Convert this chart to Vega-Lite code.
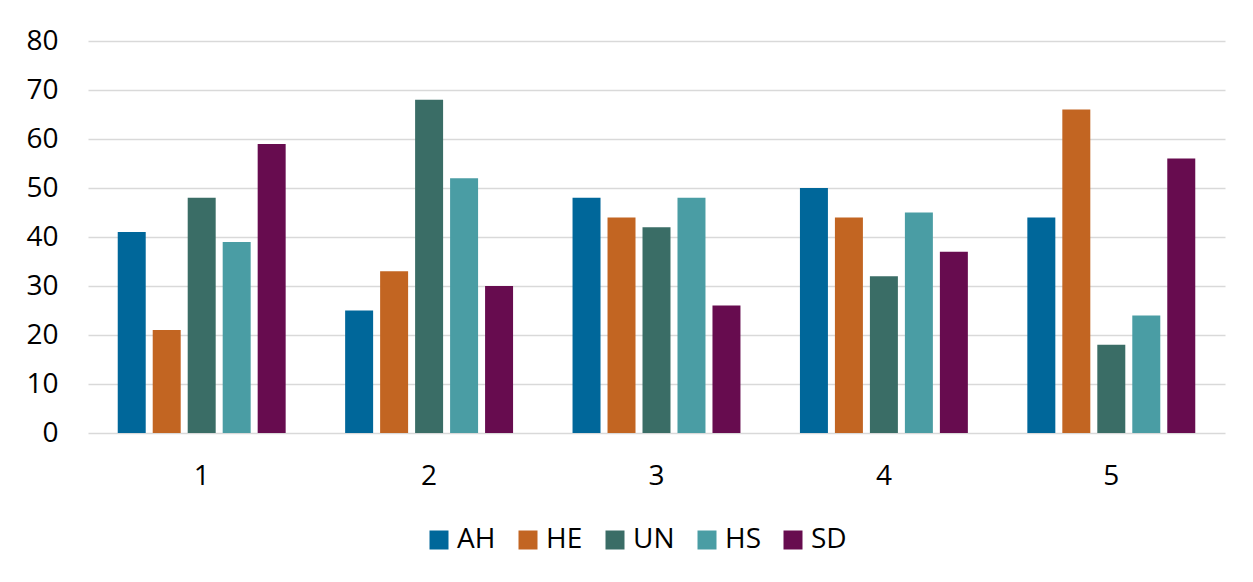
{
  "$schema": "https://vega.github.io/schema/vega-lite/v6.json",
  "width": 1137,
  "height": 392,
  "padding": {"left": 25, "top": 27, "right": 28, "bottom": 20},
  "background": "white",
  "config": {
    "font": "Open Sans",
    "view": {"stroke": null},
    "axis": {"labelFont": "Open Sans", "labelFontSize": 28, "labelColor": "#000000", "ticks": false, "domain": false, "title": null},
    "legend": {"labelFont": "Open Sans", "labelFontSize": 28, "labelColor": "#000000"}
  },
  "data": {
    "values": [
      {"group": "1", "series": "AH", "value": 41},
      {"group": "1", "series": "HE", "value": 21},
      {"group": "1", "series": "UN", "value": 48},
      {"group": "1", "series": "HS", "value": 39},
      {"group": "1", "series": "SD", "value": 59},
      {"group": "2", "series": "AH", "value": 25},
      {"group": "2", "series": "HE", "value": 33},
      {"group": "2", "series": "UN", "value": 68},
      {"group": "2", "series": "HS", "value": 52},
      {"group": "2", "series": "SD", "value": 30},
      {"group": "3", "series": "AH", "value": 48},
      {"group": "3", "series": "HE", "value": 44},
      {"group": "3", "series": "UN", "value": 42},
      {"group": "3", "series": "HS", "value": 48},
      {"group": "3", "series": "SD", "value": 26},
      {"group": "4", "series": "AH", "value": 50},
      {"group": "4", "series": "HE", "value": 44},
      {"group": "4", "series": "UN", "value": 32},
      {"group": "4", "series": "HS", "value": 45},
      {"group": "4", "series": "SD", "value": 37},
      {"group": "5", "series": "AH", "value": 44},
      {"group": "5", "series": "HE", "value": 66},
      {"group": "5", "series": "UN", "value": 18},
      {"group": "5", "series": "HS", "value": 24},
      {"group": "5", "series": "SD", "value": 56}
    ]
  },
  "mark": {"type": "bar"},
  "encoding": {
    "x": {
      "field": "group",
      "type": "nominal",
      "scale": {"paddingInner": 0, "paddingOuter": 0},
      "axis": {"labelAngle": 0, "labelPadding": 29, "grid": false}
    },
    "xOffset": {
      "field": "series",
      "type": "nominal",
      "sort": ["AH", "HE", "UN", "HS", "SD"],
      "scale": {"paddingInner": 0.2, "paddingOuter": 0.85}
    },
    "y": {
      "field": "value",
      "type": "quantitative",
      "scale": {"domain": [0, 80]},
      "axis": {"values": [0, 10, 20, 30, 40, 50, 60, 70, 80], "labelPadding": 30, "grid": true, "gridColor": "#d9d9d9", "gridWidth": 1.3}
    },
    "color": {
      "field": "series",
      "type": "nominal",
      "sort": ["AH", "HE", "UN", "HS", "SD"],
      "scale": {"domain": ["AH", "HE", "UN", "HS", "SD"], "range": ["#00679A", "#C26522", "#3A6D66", "#4A9DA4", "#670C4F"]},
      "legend": {
        "title": null,
        "orient": "none",
        "legendX": 337,
        "legendY": 485,
        "direction": "horizontal",
        "symbolType": "square",
        "symbolSize": 361,
        "symbolStrokeWidth": 0,
        "symbolOpacity": 1,
        "labelOffset": 4,
        "columnPadding": 18
      }
    }
  }
}
